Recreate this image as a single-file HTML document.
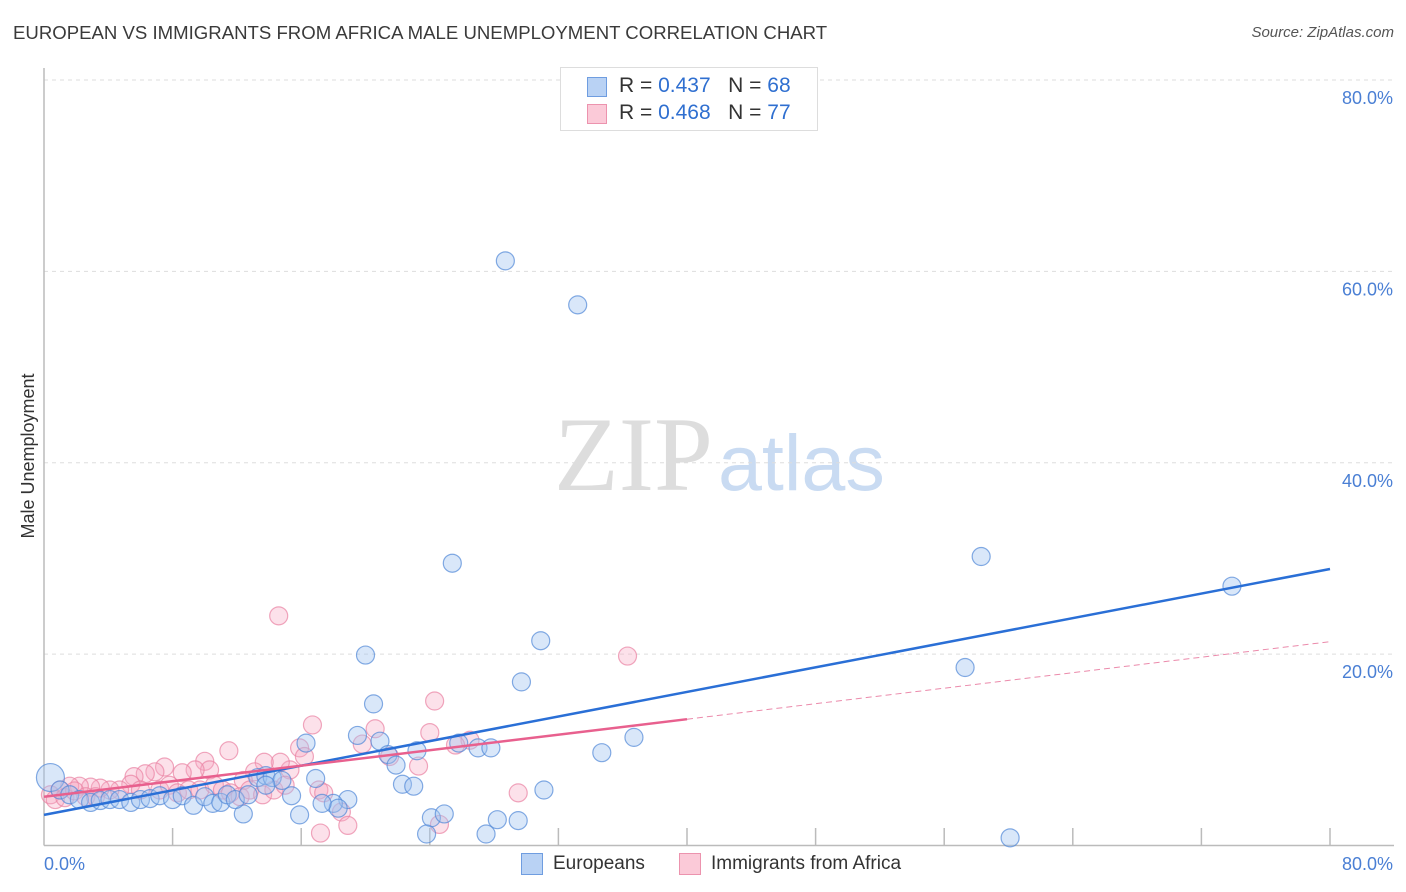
<!DOCTYPE html>
<html><head><meta charset="utf-8"><style>
body{margin:0;background:#fff;font-family:"Liberation Sans",sans-serif;}
#wrap{position:relative;width:1406px;height:892px;overflow:hidden;}
.t{position:absolute;white-space:nowrap;}
</style></head><body>
<div id="wrap">
<div class="t" style="left:13px;top:22px;font-size:18.6px;color:#3a3a3a;">EUROPEAN VS IMMIGRANTS FROM AFRICA MALE UNEMPLOYMENT CORRELATION CHART</div>
<div class="t" style="right:12px;top:24px;font-size:15px;color:#555;font-style:italic;">Source: ZipAtlas.com</div>
<svg id="svg" width="1406" height="892" style="position:absolute;left:0;top:0">
<text x="554" y="490" font-family="Liberation Serif,serif" font-size="106" fill="#ddd">ZIP</text>
<text x="718" y="490" font-family="Liberation Sans,sans-serif" font-size="79" fill="#c9dbf2">atlas</text>
<text transform="translate(34,456) rotate(-90)" text-anchor="middle" font-size="18" fill="#333">Male Unemployment</text>
<text x="44" y="870" font-size="18" fill="#4a7fd4">0.0%</text>
<text x="1393" y="870" text-anchor="end" font-size="18" fill="#4a7fd4">80.0%</text>
</svg>
<div class="t" style="left:560px;top:67px;width:256px;height:62px;border:1px solid #ddd;background:#fff;">
 <div style="position:absolute;left:26px;top:9px;width:18px;height:18px;background:#b9d2f4;border:1px solid #6f9de0;"></div>
 <div class="t" style="left:58px;top:6px;font-size:21px;color:#333">R = <span style="color:#2f6fd0">0.437</span>&nbsp;&nbsp;&nbsp;N = <span style="color:#2f6fd0">68</span></div>
 <div style="position:absolute;left:26px;top:36px;width:18px;height:18px;background:#fbcad8;border:1px solid #ec93ae;"></div>
 <div class="t" style="left:58px;top:33px;font-size:21px;color:#333">R = <span style="color:#2f6fd0">0.468</span>&nbsp;&nbsp;&nbsp;N = <span style="color:#2f6fd0">77</span></div>
</div>
<div style="position:absolute;left:521px;top:853px;width:20px;height:20px;background:#b9d2f4;border:1px solid #6f9de0;"></div>
<div class="t" style="left:553px;top:853px;font-size:19px;color:#333">Europeans</div>
<div style="position:absolute;left:679px;top:853px;width:20px;height:20px;background:#fbcad8;border:1px solid #ec93ae;"></div>
<div class="t" style="left:711px;top:853px;font-size:19px;color:#333">Immigrants from Africa</div>
</div>
<script>
const yTicks=[20,40,60,80];
const xTickCount=10;
const euroX=[28.7,33.2,25.4,58.3,73.9,30.9,20.0,57.3,29.7,20.5,19.5,36.7,34.7,16.3,20.9,21.4,23.2,25.8,27.0,27.8,21.9,22.3,23.0,31.1,16.9,18.9,15.4,18.0,18.3,15.9,12.4,17.3,24.1,24.9,28.2,29.5,23.8,27.5,60.1,0.4,1.0,1.6,2.2,2.9,3.5,4.1,4.7,5.4,6.0,6.6,7.2,8.0,8.6,9.3,10.0,10.5,11.0,11.4,11.9,12.7,13.3,13.8,14.2,14.8,13.8];
const euroY=[61.1,56.5,29.5,30.2,27.1,21.4,19.9,18.6,17.1,14.8,11.5,11.3,9.7,10.7,10.9,9.5,9.9,10.7,10.2,10.2,8.4,6.4,6.2,5.8,7.0,4.8,5.2,4.4,3.9,3.2,3.3,4.4,2.9,3.3,2.7,2.6,1.2,1.2,0.8,7.1,5.8,5.3,4.8,4.5,4.7,4.8,4.8,4.5,4.8,4.9,5.2,4.8,5.2,4.2,5.1,4.4,4.5,5.3,4.8,5.3,7.1,7.3,7.1,6.8,6.3];
const afrX=[14.6,36.3,24.3,16.7,20.6,24.0,19.8,15.9,26.5,25.6,23.3,16.2,15.3,14.7,13.7,13.1,12.4,11.5,10.0,10.3,9.4,8.6,7.5,6.9,6.3,5.6,5.4,4.7,4.1,3.5,2.9,2.2,1.6,1.0,0.4,0.7,1.3,1.9,2.6,3.2,6.0,7.2,7.8,8.3,9.0,9.7,10.6,11.1,11.6,12.2,12.8,13.6,14.3,15.0,17.1,17.4,18.5,17.2,18.9,21.5,24.6,29.5];
const afrY=[24.0,19.8,15.1,12.6,12.2,11.8,10.6,10.2,11.0,10.5,8.3,9.3,7.9,8.7,8.7,7.7,6.8,9.9,8.8,7.9,7.9,7.6,8.2,7.7,7.5,7.2,6.4,5.8,5.8,6.0,6.1,6.2,6.2,5.8,5.3,4.8,5.0,5.7,5.1,5.1,5.8,5.8,6.3,5.5,5.8,5.8,6.3,5.8,5.5,5.1,5.8,5.3,5.8,6.3,5.8,5.5,3.5,1.3,2.1,9.3,2.2,5.5];
const euroTrend=[3.2,28.9];
const afrTrend=[5.1,21.3];
const afrSolidEnd=40;
const X0=44,X1=1330,Y0=845.5,Y1=80;
const sx=v=>X0+(X1-X0)*v/80, sy=v=>Y0-(Y0-Y1)*v/80;
const svg=document.getElementById('svg');const NS='http://www.w3.org/2000/svg';
function mk(t,a){const e=document.createElementNS(NS,t);for(const k in a)e.setAttribute(k,a[k]);svg.appendChild(e);return e;}
yTicks.forEach(v=>{
 const g=mk('line',{x1:44,x2:1394,y1:sy(v),y2:sy(v),stroke:'#ddd','stroke-dasharray':'4,4'});
 
 
 const t=mk('text',{x:1393,y:sy(v)+24,'text-anchor':'end','font-size':18,fill:'#4a7fd4'});t.textContent=v.toFixed(1)+'%';
 
 
});
let a=mk('line',{x1:44,x2:1394,y1:845.5,y2:845.5,stroke:'#bbb','stroke-width':1.5});


a=mk('line',{x1:44,x2:44,y1:68,y2:845.5,stroke:'#bbb','stroke-width':1.5});


for(let i=1;i<=xTickCount;i++){const x=sx(i*8);const t=mk('line',{x1:x,x2:x,y1:828,y2:845,stroke:'#bbb','stroke-width':1.5});
 
 }
afrX.forEach((v,i)=>{const c=mk('circle',{cx:sx(v),cy:sy(afrY[i]),r:9,fill:'rgba(247,170,195,0.35)',stroke:'rgba(233,130,162,0.7)','stroke-width':1.2});
 
 });
euroX.forEach((v,i)=>{const c=mk('circle',{cx:sx(v),cy:sy(euroY[i]),r:i==39?14:9,fill:'rgba(160,195,240,0.4)',stroke:'rgba(80,135,215,0.7)','stroke-width':1.2});
 
 });
let l=mk('line',{x1:sx(0),y1:sy(euroTrend[0]),x2:sx(80),y2:sy(euroTrend[1]),stroke:'#2a6fd6','stroke-width':2.5});


const afY=x=>afrTrend[0]+(afrTrend[1]-afrTrend[0])*x/80;
l=mk('line',{x1:sx(0),y1:sy(afY(0)),x2:sx(afrSolidEnd),y2:sy(afY(afrSolidEnd)),stroke:'#e8608e','stroke-width':2.5});


l=mk('line',{x1:sx(afrSolidEnd),y1:sy(afY(afrSolidEnd)),x2:sx(80),y2:sy(afY(80)),stroke:'#eb8aab','stroke-width':1,'stroke-dasharray':'6,4'});


</script>
</body></html>
